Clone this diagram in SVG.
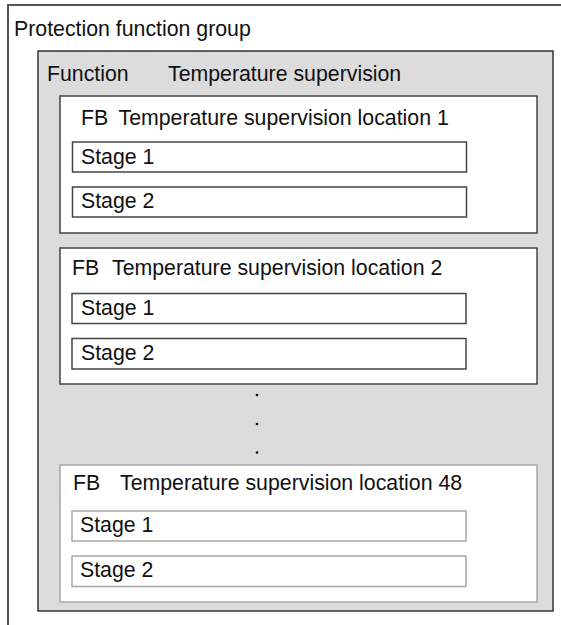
<svg xmlns="http://www.w3.org/2000/svg" width="561" height="625" viewBox="0 0 561 625">
<style>
text{font-family:"Liberation Sans",Arial,sans-serif;font-size:21.3px;fill:#111}
.fb{fill:#fff;stroke:#444;stroke-width:1.5}
.st{fill:#fff;stroke:#444;stroke-width:1.5}
.fbl{fill:#fff;stroke:#a8a8a8;stroke-width:1.5}
.stl{fill:#fff;stroke:#a8a8a8;stroke-width:1.5}
</style>
<rect width="561" height="625" fill="#fff"/>
<g id="group">
<path d="M8,625 V5 H561" fill="none" stroke="#555" stroke-width="2"/>
<text x="14" y="36">Protection function group</text>
</g>
<g id="function">
<rect x="38" y="51" width="515" height="560" fill="#dcdcdc" stroke="#333" stroke-width="1.5"/>
<text x="47" y="81">Function</text>
<text x="168" y="81">Temperature supervision</text>
</g>
<g id="fb1">
<rect class="fb" x="60" y="96" width="477" height="137"/>
<text x="81" y="125">FB</text>
<text x="118.5" y="125">Temperature supervision location 1</text>
<g id="fb1-stage1"><rect class="st" x="72.5" y="142" width="394" height="30"/><text x="81" y="164">Stage 1</text></g>
<g id="fb1-stage2"><rect class="st" x="72.5" y="187" width="394" height="30"/><text x="81" y="207.5">Stage 2</text></g>
</g>
<g id="fb2">
<rect class="fb" x="60" y="248" width="477" height="136"/>
<text x="72" y="275">FB</text>
<text x="112" y="275">Temperature supervision location 2</text>
<g id="fb2-stage1"><rect class="st" x="72" y="293.5" width="394" height="30"/><text x="81" y="315">Stage 1</text></g>
<g id="fb2-stage2"><rect class="st" x="72" y="338.5" width="394" height="30.5"/><text x="81" y="360">Stage 2</text></g>
</g>
<g id="dots" fill="#111">
<circle cx="257" cy="395" r="1.3"/>
<circle cx="257" cy="424" r="1.3"/>
<circle cx="257" cy="452.5" r="1.3"/>
</g>
<g id="fb48">
<rect class="fbl" x="60" y="465" width="477" height="137"/>
<text x="73" y="490">FB</text>
<text x="120" y="490">Temperature supervision location 48</text>
<g id="fb48-stage1"><rect class="stl" x="72" y="511" width="394" height="30"/><text x="80" y="532">Stage 1</text></g>
<g id="fb48-stage2"><rect class="stl" x="72" y="556" width="394" height="30.5"/><text x="80" y="577">Stage 2</text></g>
</g>
<g id="connectors"/>
</svg>
